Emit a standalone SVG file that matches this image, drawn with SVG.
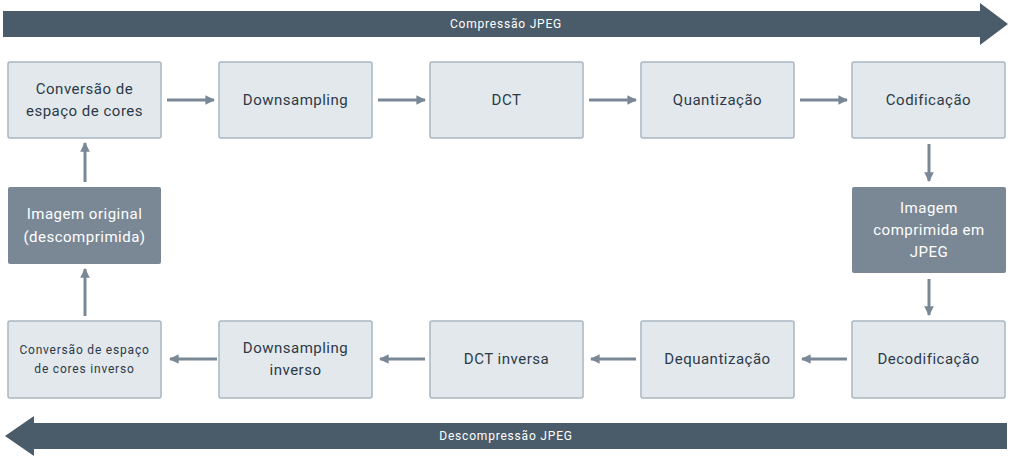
<svg xmlns="http://www.w3.org/2000/svg" width="1016" height="462" viewBox="0 0 1016 462">
<defs>
<marker id="ah" viewBox="0 0 10 10" refX="9" refY="5" markerWidth="3.2" markerHeight="3.2" orient="auto" markerUnits="strokeWidth">
<path d="M0,0 L10,5 L0,10 z" fill="#7a8896"/>
</marker>
<style>
.n rect{fill:#e3e8ed;stroke:#a9b6c2;stroke-width:1.5}
.d rect{fill:#7a8896;stroke:none}
text{font-family:Roboto,"Noto Sans",sans-serif;text-anchor:middle;dominant-baseline:central;letter-spacing:0.5px}
.n text{fill:#2c3a47;font-size:15px}
.d text{fill:#ffffff;font-size:15px}
.sm{font-size:12px !important;letter-spacing:0.8px}
.band{fill:#4a5b6a}
.bt{fill:#ffffff;font-size:12px;letter-spacing:0.8px}
.c line{stroke:#7a8896;stroke-width:3;marker-end:url(#ah)}
</style>
</defs>
<g id="band-top">
<path class="band" d="M3,11 H980 V3 L1008,24 L980,45 V37 H3 Z"/>
<text class="bt" x="506" y="24">Compressão JPEG</text>
</g>
<g id="band-bottom">
<path class="band" d="M1007,423 H34 V416 L5,436 L34,456 V449 H1007 Z"/>
<text class="bt" x="506" y="436">Descompressão JPEG</text>
</g>
<g id="conv" class="n"><rect x="8" y="62" width="153" height="76" rx="2"/><text x="84.5" y="89">Conversão de</text><text x="84.5" y="111">espaço de cores</text></g>
<g id="down" class="n"><rect x="219" y="62" width="153" height="76" rx="2"/><text x="295.5" y="100">Downsampling</text></g>
<g id="dct" class="n"><rect x="430" y="62" width="153" height="76" rx="2"/><text x="506.5" y="100">DCT</text></g>
<g id="quant" class="n"><rect x="641" y="62" width="153" height="76" rx="2"/><text x="717.5" y="100">Quantização</text></g>
<g id="cod" class="n"><rect x="852" y="62" width="153" height="76" rx="2"/><text x="928.5" y="100">Codificação</text></g>
<g id="orig" class="d"><rect x="8" y="187" width="153" height="77" rx="2"/><text x="84.5" y="214">Imagem original</text><text x="84.5" y="237">(descomprimida)</text></g>
<g id="comp" class="d"><rect x="852" y="187" width="154" height="86" rx="2"/><text x="929" y="208">Imagem</text><text x="929" y="230">comprimida em</text><text x="929" y="252">JPEG</text></g>
<g id="iconv" class="n"><rect x="8" y="321" width="153" height="77" rx="2"/><text class="sm" x="84.5" y="350">Conversão de espaço</text><text class="sm" x="84.5" y="369">de cores inverso</text></g>
<g id="idown" class="n"><rect x="219" y="321" width="153" height="77" rx="2"/><text x="295.5" y="348">Downsampling</text><text x="295.5" y="370">inverso</text></g>
<g id="idct" class="n"><rect x="430" y="321" width="153" height="77" rx="2"/><text x="506.5" y="359">DCT inversa</text></g>
<g id="dequant" class="n"><rect x="641" y="321" width="153" height="77" rx="2"/><text x="717.5" y="359">Dequantização</text></g>
<g id="decod" class="n"><rect x="852" y="321" width="153" height="77" rx="2"/><text x="928.5" y="359">Decodificação</text></g>
<g id="connectors" class="c">
<line x1="167" y1="100" x2="214" y2="100"/>
<line x1="378" y1="100" x2="425" y2="100"/>
<line x1="589" y1="100" x2="636" y2="100"/>
<line x1="800" y1="100" x2="847" y2="100"/>
<line x1="929" y1="144" x2="929" y2="181"/>
<line x1="929" y1="279" x2="929" y2="315"/>
<line x1="847" y1="359" x2="802" y2="359"/>
<line x1="636" y1="359" x2="591" y2="359"/>
<line x1="425" y1="359" x2="380" y2="359"/>
<line x1="217" y1="359" x2="170" y2="359"/>
<line x1="85" y1="316" x2="85" y2="269"/>
<line x1="85" y1="182" x2="85" y2="143"/>
</g>
</svg>
